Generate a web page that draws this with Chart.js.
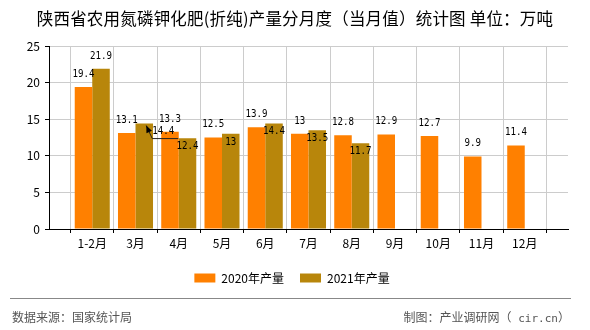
<!DOCTYPE html>
<html>
<head>
<meta charset="utf-8">
<script src="https://cdn.jsdelivr.net/npm/chart.js@4.4.0/dist/chart.umd.min.js"></script>
<style>
    html, body { margin: 0; padding: 0; background: #fff; }
    #wrap { position: relative; width: 590px; height: 330px; font-family: "Noto Sans CJK SC", sans-serif; }
    #chart { position: absolute; left: 0; top: 0; }
    #title { position: absolute; left: 0; top: 8px; width: 590px; text-align: center; font-size: 16.5px; line-height: 20px; color: #000; letter-spacing: 0.2px; }
    #rule { position: absolute; left: 10px; top: 298px; width: 561px; border-top: 1px solid #888; }
    .foot { position: absolute; top: 309px; font-size: 12px; line-height: 16px; color: #555; }
    .mono { font-family: "DejaVu Sans Mono", monospace; font-size: 11px; }
</style>
</head>
<body>
<div id="wrap">
    <canvas id="chart" width="590" height="330"></canvas>
    <div id="title">陕西省农用氮磷钾化肥(折纯)产量分月度（当月值）统计图 单位：万吨</div>
    <div id="rule"></div>
    <div class="foot" style="left:12px;">数据来源：国家统计局</div>
    <div class="foot" style="right:20px;">制图：产业调研网（<span class="mono"> cir.cn</span>）</div>
</div>
<script>
const months = ['1-2月', '3月', '4月', '5月', '6月', '7月', '8月', '9月', '10月', '11月', '12月'];
const output2020 = [19.4, 13.1, 13.3, 12.5, 13.9, 13, 12.8, 12.9, 12.7, 9.9, 11.4];
const output2021 = [21.9, 14.4, 12.4, 13, 14.4, 13.5, 11.7];
const yTicks = [0, 5, 10, 15, 20, 25];

// label of 2021 that gets pushed sideways with a leader line
const calloutShift = { '3月': 19 };

// empty slot on each side of the months, like the original axis
const labels = [''].concat(months, ['']);
function pad(values) {
    const out = [null].concat(values);
    while (out.length < labels.length) out.push(null);
    return out;
}

// narrow monospace digits for the value labels
const squeeze = 0.83;
function drawValue(ctx, text, x, y) {
    ctx.save();
    ctx.translate(x, y);
    ctx.scale(squeeze, 1);
    ctx.fillText(text, 0, 0);
    ctx.restore();
}

const valueLabels = {
    id: 'valueLabels',
    afterDatasetsDraw(chart) {
        const ctx = chart.ctx;
        const m0 = chart.getDatasetMeta(0);
        const m1 = chart.getDatasetMeta(1);
        const d0 = chart.data.datasets[0].data;
        const d1 = chart.data.datasets[1].data;
        ctx.save();
        ctx.font = '11px "DejaVu Sans Mono", monospace';
        ctx.fillStyle = '#000';
        ctx.textAlign = 'center';
        ctx.textBaseline = 'middle';

        m0.data.forEach((bar, i) => {
            if (d0[i] == null) return;
            drawValue(ctx, String(d0[i]), bar.x, bar.y - 13);
        });

        m1.data.forEach((bar, i) => {
            if (d1[i] == null) return;
            let y = bar.y - 13;
            const other = m0.data[i];
            if (d0[i] != null && Math.abs(y - (other.y - 13)) < 12) {
                y = bar.y + 8;
            }
            const text = String(d1[i]);
            const dx = calloutShift[labels[i]] || 0;
            const cx = bar.x + dx;
            drawValue(ctx, text, cx, y);
            if (dx) {
                const w = ctx.measureText(text).width * squeeze;
                const uy = y + 7;
                const left = cx - w / 2;
                const tipX = bar.x + 2, tipY = bar.y + 2;
                ctx.strokeStyle = '#222';
                ctx.lineWidth = 1;
                ctx.beginPath();
                ctx.moveTo(cx + w / 2 + 4, uy);
                ctx.lineTo(left, uy);
                ctx.lineTo(tipX, tipY);
                ctx.stroke();
                // arrow head
                const ang = Math.atan2(tipY - uy, tipX - left);
                ctx.beginPath();
                ctx.moveTo(tipX, tipY);
                ctx.lineTo(tipX - 7 * Math.cos(ang) + 3 * Math.sin(ang), tipY - 7 * Math.sin(ang) - 3 * Math.cos(ang));
                ctx.lineTo(tipX - 7 * Math.cos(ang) - 3 * Math.sin(ang), tipY - 7 * Math.sin(ang) + 3 * Math.cos(ang));
                ctx.closePath();
                ctx.fill();
            }
        });
        ctx.restore();
    }
};

const tickFont = { family: '"Noto Sans CJK SC", sans-serif', size: 12 };

new Chart(document.getElementById('chart').getContext('2d'), {
    type: 'bar',
    data: {
        labels: labels,
        datasets: [{
            label: '2020年产量',
            data: pad(output2020),
            backgroundColor: '#FF8000',
            borderWidth: 0,
            inflateAmount: 0
        }, {
            label: '2021年产量',
            data: pad(output2021),
            backgroundColor: '#B8860B',
            borderWidth: 0,
            inflateAmount: 0
        }]
    },
    options: {
        responsive: false,
        animation: false,
        layout: {
            padding: { top: 46, right: 22, bottom: 36, left: 16 }
        },
        categoryPercentage: 0.81,
        barPercentage: 1,
        scales: {
            x: {
                offset: false,
                grid: { color: '#ccc', tickColor: '#000', tickLength: 4 },
                border: { color: '#000' },
                ticks: { color: '#000', font: tickFont, padding: 3, maxRotation: 0, autoSkip: false },
                afterFit(scale) { scale.height = 27; }
            },
            y: {
                min: yTicks[0],
                max: yTicks[yTicks.length - 1],
                afterBuildTicks(scale) { scale.ticks = yTicks.map(v => ({ value: v })); },
                grid: { color: '#ccc', tickColor: '#000', tickLength: 4 },
                border: { color: '#000' },
                ticks: { color: '#000', font: tickFont, padding: 5 },
                afterFit(scale) { scale.width = 33; }
            }
        },
        plugins: {
            legend: {
                position: 'bottom',
                labels: {
                    boxWidth: 21,
                    boxHeight: 9,
                    padding: 16,
                    color: '#000',
                    font: tickFont
                }
            },
            tooltip: { enabled: false }
        }
    },
    plugins: [valueLabels]
});
</script>
</body>
</html>
